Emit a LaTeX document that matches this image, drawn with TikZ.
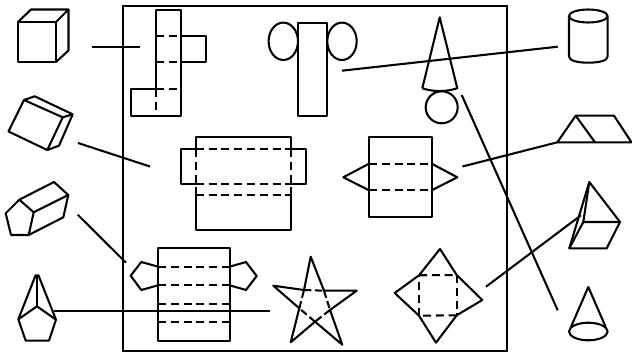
\documentclass[tikz,border=0pt]{standalone}
\tikzset{
  solidline/.style={line width=1.55pt,black,line join=round},
  dashline/.style={line width=1.55pt,black,dash pattern=on 6pt off 3.6pt},
  stardash/.style={line width=1.55pt,black,dash pattern=on 5.5pt off 2.6pt},
}
\begin{document}
\begin{tikzpicture}[x=0.75pt,y=-0.75pt,solidline]
\useasboundingbox (0,0) rectangle (632,353);
\draw[line join=miter] (123,6) rectangle (507,350.7);
% cube
\draw (18,22) rectangle (56,62);
\draw (18,22) -- (31,9.5) -- (68.5,9.5) -- (56,22);
\draw (68.5,9.5) -- (68.5,50.5) -- (56,62);
% cross net
\draw (156,89) -- (156,10) -- (181,10) -- (181,116) -- (131,116) -- (131,89) -- (156,89);
\draw (181,36) -- (206,36) -- (206,62) -- (181,62);
\draw[dashline] (156,36) -- (181,36);
\draw[dashline] (156,62) -- (181,62);
\draw[dashline] (156,89) -- (181,89);
\draw[dashline] (156,89) -- (156,116);
% slanted box
\draw (8.5,131.5) -- (24,100) -- (34.7,96.3) -- (72.7,114.3) -- (59,145.7) -- (47.3,150) -- cycle;
\draw (24,100) -- (62.7,117.3) -- (72.7,114.3);
\draw (62.7,117.3) -- (47.3,150);
% pentagonal prism
\draw (5.7,213.3) -- (19.3,199.7) -- (33.7,212.3) -- (28.7,235) -- (11,235) -- cycle;
\draw (19.3,199.7) -- (54,182) -- (68.3,195) -- (33.7,212.3);
\draw (68.3,195) -- (63.3,217.3) -- (28.7,235);
% pentagonal pyramid
\draw (18.3,319.3) -- (37,306.3) -- (56,319.7) -- (49,340.7) -- (25.7,340.7) -- cycle;
\draw (18.3,319.3) -- (35.5,275.5) -- (38.5,275.5) -- (56,319.7);
\draw (37,275.5) -- (37,306.3);
% pentagonal prism net
\draw (158,248) rectangle (229.7,340.7);
\draw (158,266.7) -- (141.3,262) -- (130.7,275.7) -- (141.3,290) -- (158,285.3);
\draw (229.7,266.7) -- (246,262) -- (256.7,276) -- (246,290) -- (229.7,285.3);
\foreach \yy in {266.7,285.3,304,322.3}
  \draw[dashline] (158,\yy) -- (229.7,\yy);
% cylinder net
\draw (298,22.7) rectangle (327.3,116);
\draw (283.3,41.3) ellipse [x radius=14.7,y radius=18.7];
\draw (342,41.3) ellipse [x radius=14.7,y radius=18.7];
% cone net
\draw (422.3,88.3) -- (439.7,17.3) -- (457.3,88.3) .. controls (445,92) and (434,92) .. (422.3,88.3);
\draw (441.7,107.3) circle [radius=16];
% box net
\draw (195.7,149) -- (195.7,137) -- (291.3,137) -- (291.3,149);
\draw (195.7,149) -- (181,149) -- (181,183.7) -- (195.7,183.7);
\draw (291.3,149) -- (306.3,149) -- (306.3,183.7) -- (291.3,183.7);
\draw (195.7,195.3) -- (195.7,230) -- (291.3,230) -- (291.3,195.3);
\draw[dashline] (195.7,149) -- (291.3,149);
\draw[dashline] (195.7,183.7) -- (291.3,183.7);
\draw[dashline] (195.7,195.3) -- (291.3,195.3);
\draw[dashline] (195.7,149) -- (195.7,195.3);
\draw[dashline] (291.3,149) -- (291.3,195.3);
% triangular prism net
\draw (369,137) rectangle (431.7,216.7);
\draw (369,163.7) -- (343.3,177.3) -- (369,190.3);
\draw (431.7,163.7) -- (457.3,177.3) -- (431.7,190.3);
\draw[dashline] (369,163.7) -- (431.7,163.7);
\draw[dashline] (369,190.3) -- (431.7,190.3);
% star net
\draw (310.7,256.7) -- (324,290.7) -- (356.7,290.7) -- (330,310) -- (342.3,344.7) -- (315,321.7) -- (290.7,342.3) -- (299.3,308.3) -- (273.3,285.7) -- (304,290) -- cycle;
\draw[stardash] (304,290) -- (324,290.7);
\draw[stardash] (324,290.7) -- (330,310);
\draw[stardash] (330,310) -- (315,321.7);
\draw[stardash] (315,321.7) -- (299.3,308.3);
\draw[stardash] (299.3,308.3) -- (304,290);
% square pyramid net
\draw (440,249) -- (456.7,275) -- (482.3,300) -- (456.7,315.3) -- (436,342.7) -- (419,315.7) -- (394.7,293) -- (419,275.3) -- cycle;
\draw[dashline] (419,275.3) -- (456.7,275);
\draw[dashline] (456.7,275) -- (456.7,315.3);
\draw[dashline] (456.7,315.3) -- (419,315.7);
\draw[dashline] (419,315.7) -- (419,275.3);
% right cylinder
\draw (588.3,16) ellipse [x radius=19.3,y radius=6.5];
\draw (569,16) -- (569,56.5) .. controls (569,60.8) and (578,62.7) .. (588.3,62.7) .. controls (598.6,62.7) and (607.6,60.8) .. (607.6,56.5) -- (607.6,16);
% triangular prism
\draw (557.3,142.3) -- (575.7,115.7) -- (614,115.7) -- (631.5,142.3) -- cycle;
\draw (575.7,115.7) -- (595,142.3);
% square pyramid
\draw (589.3,182) -- (620,222) -- (606.7,248.3) -- (569.3,248.3) -- cycle;
\draw (589.3,182) -- (583.3,222) -- (620,222);
\draw (583.3,222) -- (569.3,248.3);
% cone
\draw (588.3,331.5) ellipse [x radius=19.3,y radius=8.8];
\draw (571,326.8) -- (588.3,287) -- (605.6,326.8);
% connectors
\draw (92,47) -- (140,47);
\draw (78,143) -- (150,166.5);
\draw (77.7,214.7) -- (126,262.7);
\draw (54,311) -- (270,311);
\draw (342,70.7) -- (557.7,46.7);
\draw (461.7,95) -- (557.7,310.3);
\draw (462.5,166.5) -- (557.3,142.3);
\draw (486,286.7) -- (581,215.3);
\end{tikzpicture}
\end{document}
